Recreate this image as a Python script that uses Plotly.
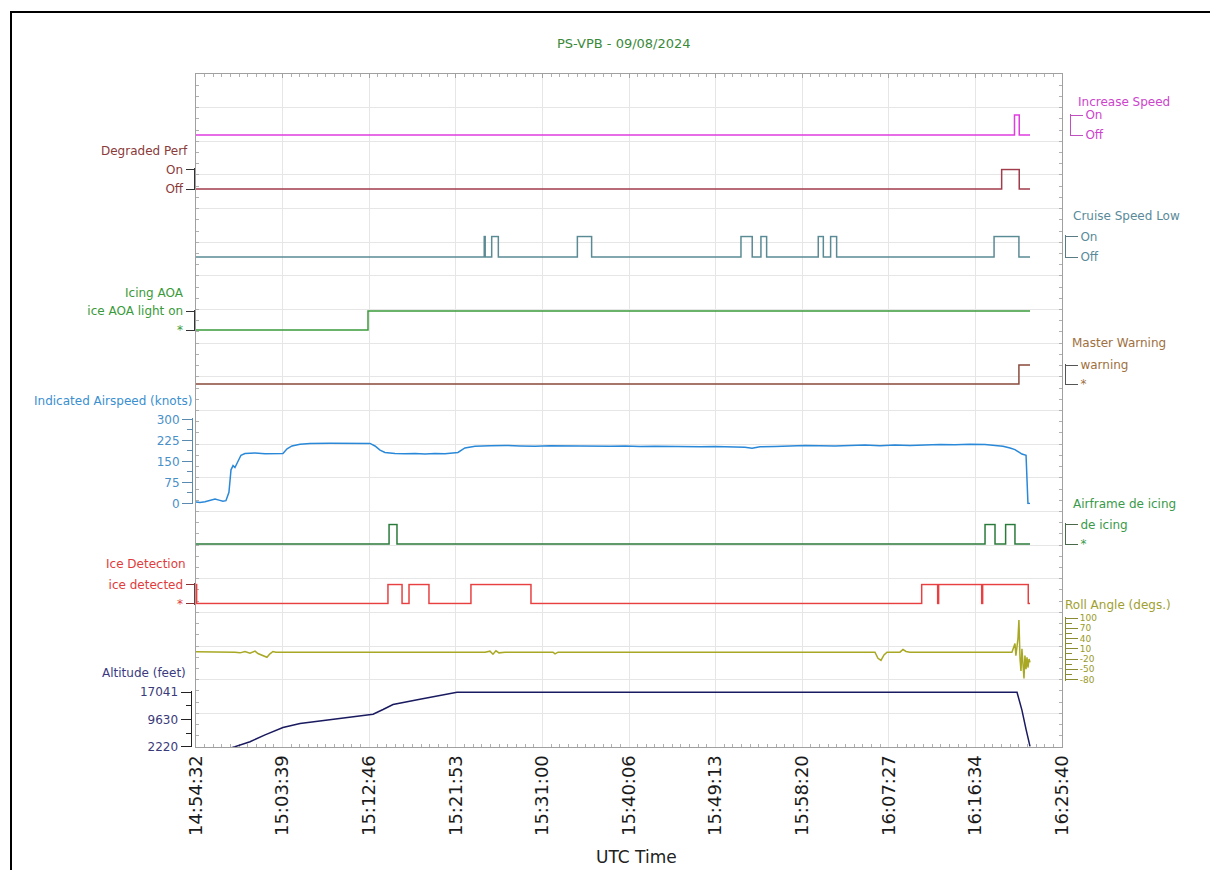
import pandas as pd
import plotly.graph_objects as go

# ---------------- DATA (elapsed seconds since 14:54:32 UTC, values) ----------------
T0 = "2024-08-09 14:54:32"
title_text = "PS-VPB - 09/08/2024"
time_labels = ["14:54:32", "15:03:39", "15:12:46", "15:21:53", "15:31:00", "15:40:06",
               "15:49:13", "15:58:20", "16:07:27", "16:16:34", "16:25:40"]

inc_t = [0, 5168, 5198, 5266]
inc_v = [0, 1, 0, 0]

deg_t = [0, 5087, 5198, 5266]
deg_v = [0, 1, 0, 0]

cruise_t = [0, 1820, 1826, 1867, 1909, 2408, 2498, 3441, 3512, 3567, 3603,
            3929, 3961, 4007, 4045, 5039, 5196, 5266]
cruise_v = [0, 1, 0, 1, 0, 1, 0, 1, 0, 1, 0, 1, 0, 1, 0, 1, 0, 0]

aoa_t = [0, 1086, 5266]
aoa_v = [0, 1, 1]

mw_t = [0, 5196, 5266]
mw_v = [0, 1, 1]

deice_t = [0, 1219, 1269, 4982, 5045, 5112, 5171, 5266]
deice_v = [0, 1, 0, 1, 0, 1, 0, 0]

icedet_t = [0, 4, 1212, 1301, 1345, 1471, 1736, 2115, 4582, 4683, 4689, 4961, 4967, 5255, 5266]
icedet_v = [1, 0, 1, 0, 1, 0, 1, 0, 1, 0, 1, 0, 1, 0, 0]

ias_t = [0, 25, 57, 88, 120, 145, 170, 189, 208, 221, 234, 246, 265, 284, 309, 372, 436,
         499, 549, 575, 606, 657, 720, 846, 972, 1099, 1130, 1162, 1193, 1256, 1320, 1383,
         1446, 1509, 1572, 1635, 1654, 1698, 1762, 1856, 1951, 2046, 2140, 2235, 2330,
         2425, 2519, 2614, 2709, 2803, 2898, 2993, 3088, 3182, 3277, 3372, 3466, 3511,
         3561, 3656, 3750, 3845, 3940, 4035, 4129, 4224, 4319, 4413, 4508, 4603, 4698,
         4792, 4887, 4982, 5045, 5095, 5140, 5171, 5196, 5215, 5241, 5247, 5253, 5266]
ias_v = [5, 4, 6, 12, 16, 12, 8, 10, 40, 120, 135, 128, 150, 172, 178, 180, 177,
         179, 178, 195, 205, 211, 214, 215, 215, 214, 205, 190, 182, 178, 177, 178,
         176, 178, 177, 179, 182, 198, 204, 206, 207, 205, 204, 206, 205,
         204, 203, 204, 205, 203, 204, 203, 204, 202, 203, 202, 200, 197,
         202, 203, 205, 207, 206, 205, 207, 208, 206, 208, 207, 209, 210,
         209, 211, 210, 208, 204, 198, 192, 183, 176, 172, 100, 0, 0]

roll_t = [0, 88, 183, 246, 278, 309, 341, 373, 391, 417, 436, 448, 467, 486, 505, 657,
          1825, 1856, 1875, 1894, 1913, 1951, 2254, 2267, 2286, 4287, 4306, 4325, 4344,
          4363, 4445, 4464, 4483, 4508, 5152, 5171, 5177, 5190, 5196, 5203, 5209, 5215,
          5222, 5228, 5234, 5241, 5247, 5253, 5260, 5266]
roll_v = [1, 1, 1, 0, -2, 2, -3, 3, -4, -8, -12, -15, -5, 2, 0, 0,
          0, 3, -6, 4, -2, 0, 0, -5, 0, 0, -18, -24, -8,
          0, 0, 8, 2, 0, 0, 25, -10, 40, 94, -20, -55, 10,
          -40, -77, -10, -50, -15, -45, -20, -30]
roll_ticks = [-80, -50, -20, 10, 40, 70, 100]
roll_ticktext = ["-80", "-50", "-20", "10", "40", "70", "100"]

alt_t = [0, 215, 246, 341, 436, 549, 657, 865, 1017, 1118, 1181, 1244, 1414, 1541, 1648,
         5184, 5215, 5241, 5266]
alt_v = [1800, 1900, 2300, 3660, 5500, 7520, 8600, 9680, 10400, 11110, 12380, 13730,
         15150, 16230, 17041, 17041, 12200, 7000, 2400]

alt_ticks = [2220, 9630, 17041]
alt_minor = [5925, 13336]

# ---------------- GEOMETRY / STYLE ----------------
W, H = 1210, 870
ML, MR, MT, MB = 150, 100, 74, 123
PW, PH = W - ML - MR, H - MT - MB
FONT = "DejaVu Sans"


def px(x):
    return (x - ML) / PW


def py(y):
    return (H - MB - y) / PH


def dom(v_a, y_a, v_b, y_b, r0, r1):
    k = (y_b - y_a) / (v_b - v_a)
    ytop = y_a + (r1 - v_a) * k
    ybot = y_a + (r0 - v_a) * k
    return [py(ybot), py(ytop)]


t0 = pd.Timestamp(T0)


def tt(secs):
    return t0 + pd.to_timedelta(secs, unit="s")


fig = go.Figure()
# placeholder on the grid subplot
fig.add_trace(go.Scatter(x=[], y=[], xaxis="x", yaxis="y", showlegend=False))

layout = dict(
    width=W, height=H, autosize=False,
    margin=dict(l=ML, r=MR, t=MT, b=MB),
    paper_bgcolor="white", plot_bgcolor="rgba(0,0,0,0)",
    font=dict(family=FONT, size=12),
    showlegend=False, hovermode=False,
)

layout["xaxis"] = dict(
    type="date", domain=[px(196), px(1062)], anchor="y",
    range=[tt(0), tt(5468)],
    tickmode="array", tickvals=[pd.Timestamp("2024-08-09 " + s) for s in time_labels],
    ticktext=time_labels, tickangle=-90,
    tickfont=dict(family=FONT, size=18, color="#1a1a1a"),
    showgrid=True, gridcolor="#e6e6e6", gridwidth=1,
    showline=True, linecolor="#a0a0a0", linewidth=1, mirror="ticks",
    ticks="inside", ticklen=4, tickcolor="#a0a0a0",
    minor=dict(tick0=tt(0), dtick=54680, ticks="inside", ticklen=3, tickcolor="#b0b0b0", showgrid=False),
    zeroline=False, fixedrange=True,
)
layout["yaxis"] = dict(
    domain=[0, 1], range=[0, 60], tickmode="linear", tick0=0, dtick=3,
    showticklabels=False, showgrid=True, gridcolor="#e6e6e6",
    showline=True, linecolor="#a0a0a0", linewidth=1, mirror="ticks",
    ticks="inside", ticklen=3, tickcolor="#b0b0b0",
    minor=dict(dtick=1, ticks="inside", ticklen=3, tickcolor="#b0b0b0", showgrid=False),
    zeroline=False, fixedrange=True,
)

annotations = []


def ann(text, x, y, color, anchor, size=12):
    annotations.append(dict(text=text, x=px(x), y=py(y), xref="paper", yref="paper",
                            xanchor=anchor, yanchor="middle", showarrow=False,
                            font=dict(family=FONT, size=size, color=color)))


# digital signals: (axis, t, v, side, bracket_x, on_y, off_y, labels, line color, text color, axis color, ticklen, title, title_x, title_y)
digital = [
    ("y2", inc_t, inc_v, "right", 1070, 115, 135, ["Off", "On"], "#e03ce0", "#cc44cc", "#c050c0", 12,
     "Increase Speed", 1076, 102),
    ("y3", deg_t, deg_v, "left", 193.5, 169.5, 189, ["Off", "On"], "#a03c4c", "#8b3a3a", "#333333", 8,
     "Degraded Perf", 190, 151),
    ("y4", cruise_t, cruise_v, "right", 1065, 236.5, 257, ["Off", "On"], "#5a8a94", "#5a8a9a", "#5a7a84", 12,
     "Cruise Speed Low", 1071, 216),
    ("y5", aoa_t, aoa_v, "left", 193.5, 311, 330, ["*", "ice AOA light on"], "#3a9a3a", "#3a9a3a", "#333333", 8,
     "Icing AOA", 186, 293),
    ("y6", mw_t, mw_v, "right", 1065, 365, 384, ["*", "warning"], "#8a4a3a", "#a07040", "#555555", 12,
     "Master Warning", 1070, 343),
    ("y8", deice_t, deice_v, "right", 1065, 524.5, 544, ["*", "de icing"], "#2a7a3a", "#3a9a4a", "#4a6a4a", 12,
     "Airframe de icing", 1071, 504),
    ("y9", icedet_t, icedet_v, "left", 193.5, 584.5, 603.5, ["*", "ice detected"], "#e84040", "#e03c3c", "#8a3030", 8,
     "Ice Detection", 188, 564),
]

for (ax, ts, vs, side, bx, on_y, off_y, labels, lc, tc, axc, tl, title, tx, tyy) in digital:
    r0, r1 = -0.06, 1.06
    fig.add_trace(go.Scatter(x=tt(ts), y=vs, mode="lines", line=dict(color=lc, width=1.5, shape="hv"),
                             xaxis="x", yaxis=ax, showlegend=False))
    layout["yaxis" + ax[1:]] = dict(
        domain=dom(0, off_y, 1, on_y, r0, r1), range=[r0, r1], anchor="free", position=px(bx), side=side,
        tickmode="array", tickvals=[0, 1], ticktext=labels,
        tickfont=dict(family=FONT, size=12, color=tc),
        ticks="outside", ticklen=tl, tickcolor=axc, tickwidth=1,
        showline=True, linecolor=axc, linewidth=1,
        showgrid=False, zeroline=False, fixedrange=True,
    )
    ann(title, tx, tyy, tc, "right" if side == "left" else "left")

# Indicated airspeed
fig.add_trace(go.Scatter(x=tt(ias_t), y=ias_v, mode="lines", line=dict(color="#2a88d8", width=1.5),
                         xaxis="x", yaxis="y7", showlegend=False))
layout["yaxis7"] = dict(
    domain=dom(0, 503.5, 300, 419.3, -3, 303), range=[-3, 303], anchor="free", position=px(192), side="left",
    tickmode="linear", tick0=0, dtick=75,
    tickfont=dict(family=FONT, size=12, color="#4a90c8"),
    ticks="outside", ticklen=10, tickcolor="#5a8ab0",
    minor=dict(tick0=0, dtick=37.5, ticks="outside", ticklen=5, tickcolor="#5a8ab0", showgrid=False),
    showline=True, linecolor="#5a8ab0", linewidth=1,
    showgrid=False, zeroline=False, fixedrange=True,
)
ann("Indicated Airspeed (knots)", 194, 401, "#3a8fd0", "right")

# Roll angle
fig.add_trace(go.Scatter(x=tt(roll_t), y=roll_v, mode="lines", line=dict(color="#a8a824", width=1.5),
                         xaxis="x", yaxis="y10", showlegend=False))
layout["yaxis10"] = dict(
    domain=dom(-80, 679.5, 100, 618, -84, 104), range=[-84, 104], anchor="free", position=px(1065), side="right",
    tickmode="array", tickvals=roll_ticks, ticktext=roll_ticktext,
    tickfont=dict(family=FONT, size=9, color="#9a9a28"),
    ticks="outside", ticklen=12, tickcolor="#8a8a30",
    minor=dict(tick0=-80, dtick=15, ticks="outside", ticklen=6, tickcolor="#8a8a30", showgrid=False),
    showline=True, linecolor="#8a8a30", linewidth=1,
    showgrid=False, zeroline=False, fixedrange=True,
)
ann("Roll Angle (degs.)", 1063, 605, "#a0a030", "left")

# Altitude
fig.add_trace(go.Scatter(x=tt(alt_t), y=alt_v, mode="lines", line=dict(color="#1a1a60", width=1.5),
                         xaxis="x", yaxis="y11", showlegend=False))
layout["yaxis11"] = dict(
    domain=dom(2220, 747, 17041, 692.3, 2220, 17400), range=[2220, 17400], anchor="free",
    position=px(190.5), side="left",
    tickmode="array", tickvals=alt_ticks, ticktext=[str(v) for v in alt_ticks],
    tickfont=dict(family=FONT, size=12, color="#3a3a7a"),
    ticks="outside", ticklen=10, tickcolor="#222222",
    minor=dict(tickvals=alt_minor, ticks="outside", ticklen=5, tickcolor="#222222", showgrid=False),
    showline=True, linecolor="#222222", linewidth=1,
    showgrid=False, zeroline=False, fixedrange=True,
)
ann("Altitude (feet)", 188, 673, "#3a3a80", "right")

# Title and x title
ann(title_text, 624, 44, "#3a8a3a", "center", size=13)
ann("UTC Time", 636, 857, "#222222", "center", size=17)

layout["annotations"] = annotations
layout["shapes"] = [dict(type="rect", xref="paper", yref="paper",
                         x0=px(11), x1=px(1230), y0=py(890), y1=py(12),
                         line=dict(color="black", width=2), fillcolor="rgba(0,0,0,0)", layer="above")]

fig.update_layout(**layout)
fig.write_html("out.html", config={"displayModeBar": False, "responsive": False},
               post_script="document.body.style.margin='0';document.body.style.overflow='hidden';")
